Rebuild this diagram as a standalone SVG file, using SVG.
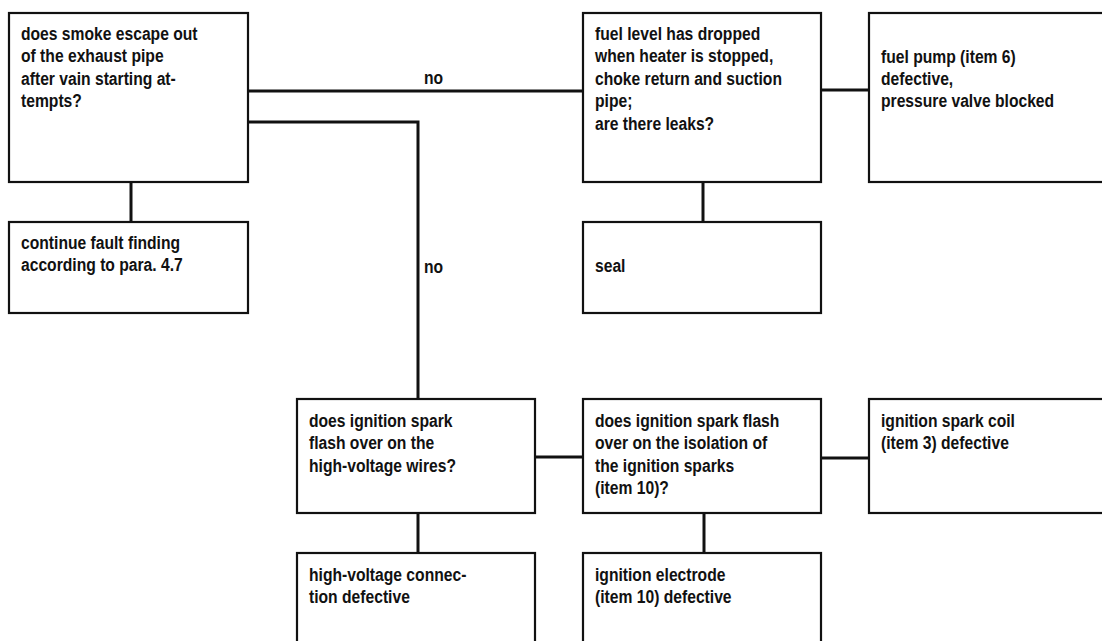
<svg xmlns="http://www.w3.org/2000/svg" width="1102" height="641" viewBox="0 0 1102 641">
<style>
.box{fill:#fff;stroke:#111;stroke-width:2.2}
.con{fill:none;stroke:#111;stroke-width:3}
.t{font-family:"Liberation Sans",Arial,sans-serif;font-weight:bold;font-size:18px;fill:#111}
</style>
<rect x="0" y="0" width="1102" height="641" fill="#fff"/>
<g id="connectors">
<path class="con" d="M248,91 H583"/>
<path class="con" d="M248,122 H418 V399"/>
<path class="con" d="M131,182 V222"/>
<path class="con" d="M821,90 H869"/>
<path class="con" d="M703,182 V222"/>
<path class="con" d="M535,457 H583"/>
<path class="con" d="M821,458 H869"/>
<path class="con" d="M418,513 V553"/>
<path class="con" d="M704,513 V553"/>
<text class="t" transform="translate(424 84) scale(0.87 1)">no</text>
<text class="t" transform="translate(424 273) scale(0.87 1)">no</text>
</g>
<g id="n1">
<rect class="box" x="9" y="13" width="239" height="169"/>
<text class="t" transform="translate(21 40) scale(0.87 1)"><tspan x="0" y="0">does smoke escape out</tspan><tspan x="0" dy="22.5">of the exhaust pipe</tspan><tspan x="0" dy="22.5">after vain starting at-</tspan><tspan x="0" dy="22.5">tempts?</tspan></text>
</g>
<g id="n2">
<rect class="box" x="9" y="222" width="239" height="91"/>
<text class="t" transform="translate(21 249) scale(0.87 1)"><tspan x="0" y="0">continue fault finding</tspan><tspan x="0" dy="22.5">according to para. 4.7</tspan></text>
</g>
<g id="n3">
<rect class="box" x="583" y="13" width="238" height="169"/>
<text class="t" transform="translate(595 40) scale(0.87 1)"><tspan x="0" y="0">fuel level has dropped</tspan><tspan x="0" dy="22.5">when heater is stopped,</tspan><tspan x="0" dy="22.5">choke return and suction</tspan><tspan x="0" dy="22.5">pipe;</tspan><tspan x="0" dy="22.5">are there leaks?</tspan></text>
</g>
<g id="n4">
<rect class="box" x="869" y="13" width="245" height="169"/>
<text class="t" transform="translate(881 62.5) scale(0.87 1)"><tspan x="0" y="0">fuel pump (item 6)</tspan><tspan x="0" dy="22.5">defective,</tspan><tspan x="0" dy="22.5">pressure valve blocked</tspan></text>
</g>
<g id="n5">
<rect class="box" x="583" y="222" width="238" height="91"/>
<text class="t" transform="translate(595 271.5) scale(0.87 1)">seal</text>
</g>
<g id="n6">
<rect class="box" x="297" y="399" width="238" height="114"/>
<text class="t" transform="translate(309 427) scale(0.87 1)"><tspan x="0" y="0">does ignition spark</tspan><tspan x="0" dy="22.5">flash over on the</tspan><tspan x="0" dy="22.5">high-voltage wires?</tspan></text>
</g>
<g id="n7">
<rect class="box" x="583" y="399" width="238" height="114"/>
<text class="t" transform="translate(595 427) scale(0.87 1)"><tspan x="0" y="0">does ignition spark flash</tspan><tspan x="0" dy="22.5">over on the isolation of</tspan><tspan x="0" dy="22.5">the ignition sparks</tspan><tspan x="0" dy="22.5">(item 10)?</tspan></text>
</g>
<g id="n8">
<rect class="box" x="869" y="399" width="245" height="114"/>
<text class="t" transform="translate(881 427) scale(0.87 1)"><tspan x="0" y="0">ignition spark coil</tspan><tspan x="0" dy="22.5">(item 3) defective</tspan></text>
</g>
<g id="n9">
<rect class="box" x="297" y="553" width="238" height="100"/>
<text class="t" transform="translate(309 581) scale(0.87 1)"><tspan x="0" y="0">high-voltage connec-</tspan><tspan x="0" dy="22.5">tion defective</tspan></text>
</g>
<g id="n10">
<rect class="box" x="583" y="553" width="238" height="100"/>
<text class="t" transform="translate(595 581) scale(0.87 1)"><tspan x="0" y="0">ignition electrode</tspan><tspan x="0" dy="22.5">(item 10) defective</tspan></text>
</g>
</svg>
